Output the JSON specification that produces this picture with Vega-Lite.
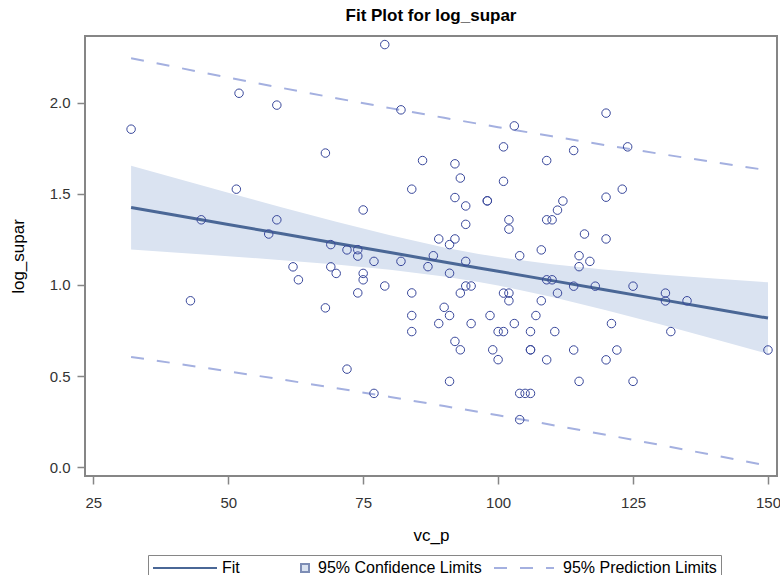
{
  "$schema": "https://vega.github.io/schema/vega-lite/v6.json",
  "width": 692,
  "height": 440,
  "autosize": {"type": "none"},
  "padding": {"left": 85, "top": 36, "right": 3, "bottom": 99},
  "background": "white",
  "title": {"text": "Fit Plot for log_supar", "font": "Liberation Sans", "fontSize": 17, "fontWeight": "bold", "color": "#000000", "anchor": "middle", "offset": 11},
  "config": {
    "view": {"stroke": "#868686", "strokeWidth": 2},
    "axis": {"labelFont": "Liberation Sans", "titleFont": "Liberation Sans", "labelFontSize": 15, "titleFontSize": 17, "titleFontWeight": "normal", "labelColor": "#333333", "titleColor": "#000000", "tickColor": "#868686", "tickWidth": 1.5, "domainColor": "#868686", "tickSize": 8, "grid": false},
    "legend": {"labelFont": "Liberation Sans", "labelFontSize": 16, "labelColor": "#000000", "labelLimit": 400, "orient": "none", "legendX": 63, "legendY": 519, "direction": "horizontal", "symbolSize": 256, "strokeColor": "#868686", "padding": 4, "columnPadding": 8, "labelOffset": 52, "symbolStrokeWidth": 2, "titlePadding": 0}
  },
  "datasets": {
    "obs": [
      {"vc_p": 68, "log_supar": 1.723}, {"vc_p": 86, "log_supar": 1.682}, {"vc_p": 92, "log_supar": 1.664}, {"vc_p": 101, "log_supar": 1.757},
      {"vc_p": 109, "log_supar": 1.682}, {"vc_p": 114, "log_supar": 1.737}, {"vc_p": 124, "log_supar": 1.757}, {"vc_p": 93, "log_supar": 1.586},
      {"vc_p": 101, "log_supar": 1.568}, {"vc_p": 51.5, "log_supar": 1.525}, {"vc_p": 84, "log_supar": 1.525}, {"vc_p": 123, "log_supar": 1.525},
      {"vc_p": 92, "log_supar": 1.479}, {"vc_p": 120, "log_supar": 1.481}, {"vc_p": 98, "log_supar": 1.461}, {"vc_p": 98, "log_supar": 1.461},
      {"vc_p": 112, "log_supar": 1.46}, {"vc_p": 94, "log_supar": 1.433}, {"vc_p": 111, "log_supar": 1.41}, {"vc_p": 75, "log_supar": 1.411},
      {"vc_p": 45, "log_supar": 1.357}, {"vc_p": 59, "log_supar": 1.357}, {"vc_p": 102, "log_supar": 1.357}, {"vc_p": 109, "log_supar": 1.357},
      {"vc_p": 110, "log_supar": 1.357}, {"vc_p": 102, "log_supar": 1.306}, {"vc_p": 94, "log_supar": 1.332}, {"vc_p": 57.5, "log_supar": 1.279},
      {"vc_p": 116, "log_supar": 1.279}, {"vc_p": 120, "log_supar": 1.252}, {"vc_p": 89, "log_supar": 1.252}, {"vc_p": 92, "log_supar": 1.252},
      {"vc_p": 91, "log_supar": 1.221}, {"vc_p": 69, "log_supar": 1.221}, {"vc_p": 72, "log_supar": 1.192}, {"vc_p": 74, "log_supar": 1.193},
      {"vc_p": 74, "log_supar": 1.158}, {"vc_p": 108, "log_supar": 1.192}, {"vc_p": 88, "log_supar": 1.16}, {"vc_p": 104, "log_supar": 1.16},
      {"vc_p": 115, "log_supar": 1.16}, {"vc_p": 77, "log_supar": 1.129}, {"vc_p": 82, "log_supar": 1.129}, {"vc_p": 94, "log_supar": 1.129},
      {"vc_p": 117, "log_supar": 1.129}, {"vc_p": 62, "log_supar": 1.099}, {"vc_p": 69, "log_supar": 1.099}, {"vc_p": 87, "log_supar": 1.1},
      {"vc_p": 115, "log_supar": 1.1}, {"vc_p": 70, "log_supar": 1.063}, {"vc_p": 75, "log_supar": 1.063}, {"vc_p": 91, "log_supar": 1.064},
      {"vc_p": 63, "log_supar": 1.028}, {"vc_p": 75, "log_supar": 1.028}, {"vc_p": 109, "log_supar": 1.028}, {"vc_p": 110, "log_supar": 1.028},
      {"vc_p": 79, "log_supar": 0.994}, {"vc_p": 94, "log_supar": 0.994}, {"vc_p": 95, "log_supar": 0.994}, {"vc_p": 114, "log_supar": 0.993},
      {"vc_p": 118, "log_supar": 0.993}, {"vc_p": 125, "log_supar": 0.993}, {"vc_p": 131, "log_supar": 0.955}, {"vc_p": 131, "log_supar": 0.912},
      {"vc_p": 135, "log_supar": 0.913}, {"vc_p": 74, "log_supar": 0.956}, {"vc_p": 84, "log_supar": 0.956}, {"vc_p": 93, "log_supar": 0.955},
      {"vc_p": 101, "log_supar": 0.955}, {"vc_p": 102, "log_supar": 0.955}, {"vc_p": 111, "log_supar": 0.955}, {"vc_p": 43, "log_supar": 0.913},
      {"vc_p": 102, "log_supar": 0.913}, {"vc_p": 108, "log_supar": 0.913}, {"vc_p": 68, "log_supar": 0.874}, {"vc_p": 90, "log_supar": 0.877},
      {"vc_p": 84, "log_supar": 0.832}, {"vc_p": 91, "log_supar": 0.832}, {"vc_p": 98.5, "log_supar": 0.832}, {"vc_p": 107, "log_supar": 0.832},
      {"vc_p": 89, "log_supar": 0.788}, {"vc_p": 95, "log_supar": 0.788}, {"vc_p": 103, "log_supar": 0.788}, {"vc_p": 121, "log_supar": 0.788},
      {"vc_p": 84, "log_supar": 0.744}, {"vc_p": 100, "log_supar": 0.744}, {"vc_p": 101, "log_supar": 0.744}, {"vc_p": 106, "log_supar": 0.744},
      {"vc_p": 110.5, "log_supar": 0.744}, {"vc_p": 132, "log_supar": 0.744}, {"vc_p": 92, "log_supar": 0.69}, {"vc_p": 93, "log_supar": 0.644},
      {"vc_p": 99, "log_supar": 0.644}, {"vc_p": 106, "log_supar": 0.644}, {"vc_p": 106, "log_supar": 0.644}, {"vc_p": 114, "log_supar": 0.643},
      {"vc_p": 122, "log_supar": 0.643}, {"vc_p": 150, "log_supar": 0.643}, {"vc_p": 100, "log_supar": 0.59}, {"vc_p": 109, "log_supar": 0.589},
      {"vc_p": 120, "log_supar": 0.589}, {"vc_p": 72, "log_supar": 0.538}, {"vc_p": 79, "log_supar": 2.318}, {"vc_p": 52, "log_supar": 2.051},
      {"vc_p": 59, "log_supar": 1.986}, {"vc_p": 82, "log_supar": 1.96}, {"vc_p": 32, "log_supar": 1.854}, {"vc_p": 120, "log_supar": 1.942},
      {"vc_p": 103, "log_supar": 1.872}, {"vc_p": 77, "log_supar": 0.405}, {"vc_p": 91, "log_supar": 0.471}, {"vc_p": 115, "log_supar": 0.471},
      {"vc_p": 125, "log_supar": 0.471}, {"vc_p": 104, "log_supar": 0.405}, {"vc_p": 105, "log_supar": 0.405}, {"vc_p": 106, "log_supar": 0.405},
      {"vc_p": 104, "log_supar": 0.261}
    ],
    "bands": [
      {"vc_p": 32, "fit": 1.424, "lcl": 1.194, "ucl": 1.654, "lpl": 0.605, "upl": 2.243},
      {"vc_p": 40, "fit": 1.3829, "lcl": 1.178, "ucl": 1.588, "lpl": 0.57, "upl": 2.196},
      {"vc_p": 50, "fit": 1.3316, "lcl": 1.1575, "ucl": 1.5057, "lpl": 0.5262, "upl": 2.137},
      {"vc_p": 60, "fit": 1.2802, "lcl": 1.1356, "ucl": 1.4248, "lpl": 0.4807, "upl": 2.0797},
      {"vc_p": 70, "fit": 1.2288, "lcl": 1.1113, "ucl": 1.3463, "lpl": 0.4338, "upl": 2.0238},
      {"vc_p": 80, "fit": 1.1775, "lcl": 1.083, "ucl": 1.272, "lpl": 0.3855, "upl": 1.9695},
      {"vc_p": 90, "fit": 1.1261, "lcl": 1.0464, "ucl": 1.2058, "lpl": 0.3358, "upl": 1.9164},
      {"vc_p": 96.4, "fit": 1.0932, "lcl": 1.0165, "ucl": 1.1699, "lpl": 0.3032, "upl": 1.8832},
      {"vc_p": 100, "fit": 1.0748, "lcl": 0.9971, "ucl": 1.1525, "lpl": 0.2847, "upl": 1.8649},
      {"vc_p": 110, "fit": 1.0234, "lcl": 0.934, "ucl": 1.1128, "lpl": 0.232, "upl": 1.8148},
      {"vc_p": 120, "fit": 0.972, "lcl": 0.8615, "ucl": 1.0825, "lpl": 0.178, "upl": 1.766},
      {"vc_p": 130, "fit": 0.9207, "lcl": 0.7839, "ucl": 1.0575, "lpl": 0.1226, "upl": 1.7188},
      {"vc_p": 140, "fit": 0.8693, "lcl": 0.7036, "ucl": 1.035, "lpl": 0.0657, "upl": 1.6729},
      {"vc_p": 150, "fit": 0.818, "lcl": 0.6218, "ucl": 1.0142, "lpl": 0.0076, "upl": 1.6284}
    ],
    "legendItems": [
      {"series": "Fit"}, {"series": "95% Confidence Limits"}, {"series": "95% Prediction Limits"}
    ]
  },
  "encoding": {
    "x": {"field": "vc_p", "type": "quantitative", "title": "vc_p",
      "scale": {"domain": [23.46, 151.67], "nice": false, "zero": false},
      "axis": {"values": [25, 50, 75, 100, 125, 150], "labelPadding": 11, "titlePadding": 17, "domain": false}}
  },
  "layer": [
    {
      "data": {"name": "bands"},
      "mark": {"type": "area", "color": "#dae3f1", "opacity": 1},
      "encoding": {
        "y": {"field": "lcl", "type": "quantitative", "title": "log_supar",
          "scale": {"domain": [-0.048, 2.365], "nice": false, "zero": false},
          "axis": {"values": [0, 0.5, 1, 1.5, 2], "format": ".1f", "labelPadding": 7, "titlePadding": 22, "domain": false}},
        "y2": {"field": "ucl"}
      }
    },
    {
      "data": {"name": "bands"},
      "mark": {"type": "line", "color": "#a4b0e0", "strokeWidth": 2, "strokeDash": [13, 13]},
      "encoding": {"y": {"field": "upl", "type": "quantitative"}}
    },
    {
      "data": {"name": "bands"},
      "mark": {"type": "line", "color": "#a4b0e0", "strokeWidth": 2, "strokeDash": [13, 13]},
      "encoding": {"y": {"field": "lpl", "type": "quantitative"}}
    },
    {
      "data": {"name": "bands"},
      "mark": {"type": "line", "color": "#4a6796", "strokeWidth": 3},
      "encoding": {"y": {"field": "fit", "type": "quantitative"}}
    },
    {
      "data": {"name": "obs"},
      "mark": {"type": "point", "shape": "circle", "filled": false, "color": "#38479b", "size": 72, "strokeWidth": 1, "opacity": 1},
      "encoding": {"y": {"field": "log_supar", "type": "quantitative"}}
    },
    {
      "data": {"name": "legendItems"},
      "transform": [{"filter": "false"}],
      "mark": {"type": "point", "opacity": 1, "strokeWidth": 2},
      "encoding": {
        "stroke": {"field": "series", "type": "nominal", "title": null,
          "scale": {"domain": ["Fit", "95% Confidence Limits", "95% Prediction Limits"], "range": ["#4a6796", "#7d8db5", "#a4b0e0"]}},
        "fill": {"field": "series", "type": "nominal", "title": null,
          "scale": {"domain": ["Fit", "95% Confidence Limits", "95% Prediction Limits"], "range": ["transparent", "#dae3f1", "transparent"]}},
        "shape": {"field": "series", "type": "nominal", "title": null,
          "scale": {"domain": ["Fit", "95% Confidence Limits", "95% Prediction Limits"], "range": ["M-1,0H7", "M5.5,-0.5H6.5V0.5H5.5Z", "M-1,0H0.625M2.25,0H3.875M5.5,0H6.5"]}}
      }
    }
  ]
}
